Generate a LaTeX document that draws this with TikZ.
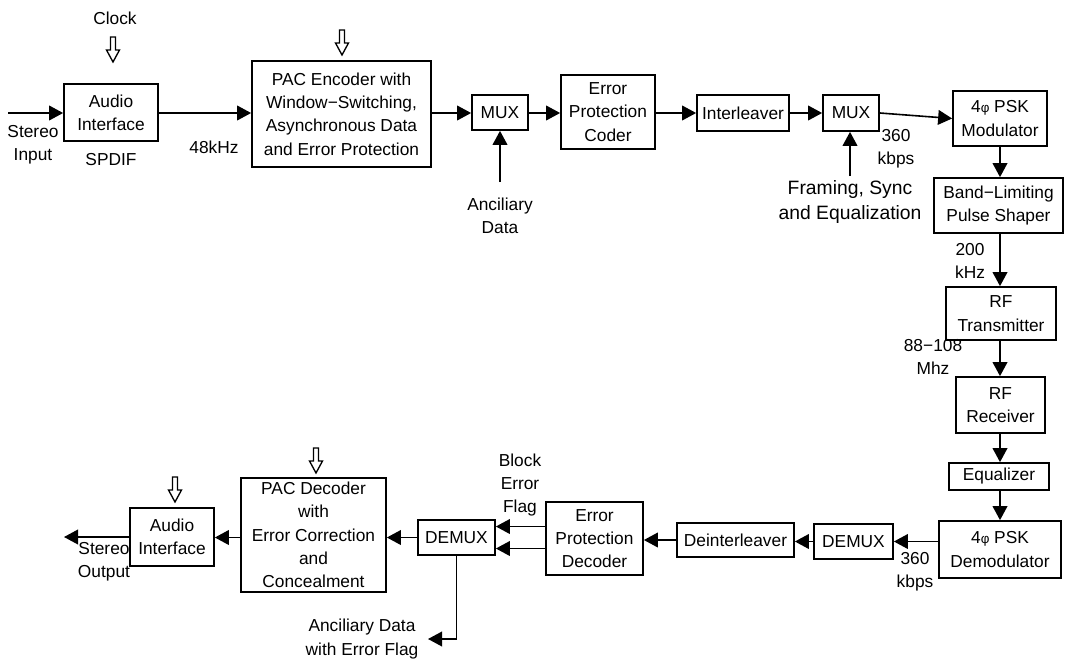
\documentclass[tikz,border=0pt]{standalone}
\usepackage{fontspec}
\setmainfont{Liberation Sans}
\usetikzlibrary{arrows.meta}
\newcommand{\mfs}{\fontsize{13}{17.5}\selectfont}
\newcommand{\bfs}{\fontsize{14.5}{18.5}\selectfont}
\newcommand{\phis}{{\fontsize{10}{10}\selectfont φ}}
\newcommand{\bx}[6]{\node[box,minimum width={(#4-#2)*0.75pt},minimum height={(#5-#3)*0.75pt}] (#1) at ({(#2+#4)/2},{(#3+#5)/2}) {#6};}
\begin{document}
\begin{tikzpicture}[x=0.75pt,y=-0.75pt,
  box/.style={draw,line width=1.3pt,inner sep=0pt,align=center,font=\mfs},
  lbl/.style={inner sep=0pt,align=center,font=\mfs},
  arr/.style={line width=1.2pt,-{Triangle[length=10.5pt,width=11pt]}},
  hollow/.pic={\draw[line width=1pt,fill=white] (-2.5,0) -- (-2.5,13) -- (-6.5,13) -- (0,25) -- (6.5,13) -- (2.5,13) -- (2.5,0) -- cycle;}
]
\useasboundingbox (0,0) rectangle (1066,661);

% ---- top row boxes
\bx{ai1}{64}{84}{158}{141}{Audio\\Interface}
\bx{pac}{252}{61}{431}{167}{PAC Encoder with\\Window−Switching,\\Asynchronous Data\\and Error Protection}
\bx{mux1}{472}{95}{528}{130}{MUX}
\bx{epc}{561}{75}{655}{149}{Error\\Protection\\Coder}
\bx{intl}{697}{95}{789}{131}{Interleaver}
\bx{mux2}{823}{95}{879}{131}{MUX}
\bx{mod}{953}{91}{1047}{146}{4\phis\ PSK\\Modulator}

% ---- right column
\bx{bl}{934}{178}{1063}{233}{Band−Limiting\\Pulse Shaper}
\bx{rft}{946}{287}{1056}{340}{RF\\Transmitter}
\bx{rfr}{956}{377}{1045}{433}{RF\\Receiver}
\bx{eq}{949}{463}{1049}{490}{Equalizer}
\bx{dem}{939}{521}{1061}{578}{4\phis\ PSK\\Demodulator}

% ---- bottom row
\bx{dmx2}{814}{524}{893}{559}{DEMUX}
\bx{dint}{677}{523}{794}{557}{Deinterleaver}
\bx{epd}{546}{502}{643}{575}{Error\\Protection\\Decoder}
\bx{dmx1}{418}{520}{495}{555}{DEMUX}
\bx{pacd}{241}{478}{386}{592}{PAC Decoder\\with\\Error Correction\\and\\Concealment}
\bx{ai2}{130}{508}{214}{566}{Audio\\Interface}

% ---- labels
\node[lbl] (clk) at (115,18) {Clock};
\node[lbl] (sinl) at (33,145) {Stereo\\Input};
\node[lbl] (spdif) at (111,160) {SPDIF};
\node[lbl] (f48) at (214,147) {48kHz};
\node[lbl] (ancl) at (500,216) {Anciliary\\Data};
\node[lbl] (r360a) at (896,149) {360\\kbps};
\node[lbl,font=\bfs] (frl) at (850,202) {Framing, Sync\\and Equalization};
\node[lbl] (f200) at (970,261) {200\\kHz};
\node[lbl] (f88) at (933,357) {88−108\\Mhz};
\node[lbl] (blk) at (520,485) {Block\\Error\\Flag};
\node[lbl] (r360b) at (915,572) {360\\kbps};
\node[lbl] (ancd) at (362,639) {Anciliary Data\\with Error Flag};
\node[lbl] (soutl) at (104,562) {Stereo\\Output};

% ---- free ends
\coordinate (sin) at (8,113);
\coordinate (ancs) at (500,182);
\coordinate (frs) at (850,176);
\coordinate (vx) at (1000,0);
\coordinate (sout) at (64,537);
\coordinate (ancout) at (428,639);

% ---- hollow arrows
\pic at (113,37) {hollow};
\pic at (342,30) {hollow};
\pic at (316,448) {hollow};
\pic at (175,477) {hollow};

% ---- top connectors
\draw[arr] (sin) -- (sin -| ai1.west);
\draw[arr] (ai1.east |- sin) -- (pac.west |- sin);
\draw[arr] (pac.east |- sin) -- (mux1.west |- sin);
\draw[arr] (mux1.east |- sin) -- (epc.west |- sin);
\draw[arr] (epc.east |- sin) -- (intl.west |- sin);
\draw[arr] (intl.east |- sin) -- (mux2.west |- sin);
\draw[arr] (mux2.east |- sin) -- (mod.west);
\draw[arr] (ancs) -- (ancs |- mux1.south);
\draw[arr] (frs) -- (frs |- mux2.south);

% ---- right column connectors
\draw[arr] (vx |- mod.south) -- (vx |- bl.north);
\draw[arr] (vx |- bl.south) -- (vx |- rft.north);
\draw[arr] (vx |- rft.south) -- (vx |- rfr.north);
\draw[arr] (vx |- rfr.south) -- (vx |- eq.north);
\draw[arr] (vx |- eq.south) -- (vx |- dem.north);

% ---- bottom connectors
\draw[arr] (dem.west |- dmx2.east) -- (dmx2.east);
\draw[arr] (dmx2.west) -- (dmx2.west -| dint.east);
\draw[arr] (dint.west) -- (dint.west -| epd.east);
\draw[arr] ([yshift=-11*0.75pt]epd.west |- dmx1.east) -- ([yshift=-11*0.75pt]dmx1.east);
\draw[arr] ([yshift=11*0.75pt]epd.west |- dmx1.east) -- ([yshift=11*0.75pt]dmx1.east);
\draw[arr] (dmx1.west) -- (dmx1.west -| pacd.east);
\draw[arr] (pacd.west |- dmx1.west) -- (ai2.east |- dmx1.west);
\draw[arr] (ai2.west |- sout) -- (sout);
\draw[arr] (dmx1.south) |- (ancout);
\end{tikzpicture}
\end{document}
